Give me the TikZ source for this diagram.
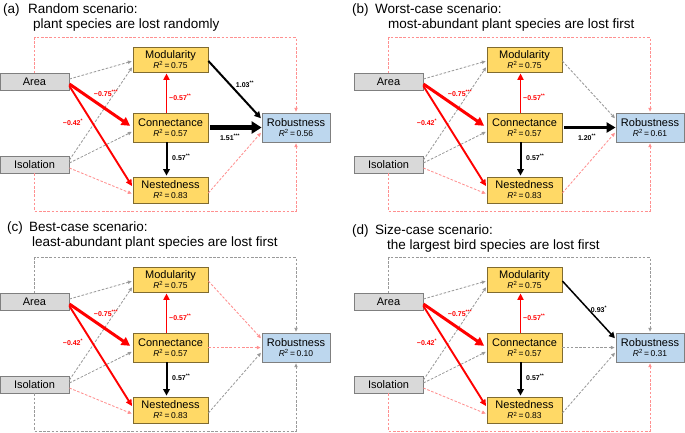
\documentclass[tikz,border=0pt]{standalone}
\usepackage{fontspec}
\setmainfont{Liberation Sans}
\usetikzlibrary{arrows.meta}
\definecolor{yfill}{HTML}{FFD966}
\definecolor{yborder}{HTML}{806B30}
\definecolor{bfill}{HTML}{BDD7EE}
\definecolor{gfill}{HTML}{D9D9D9}
\definecolor{bord}{HTML}{7F7F7F}
\definecolor{dgrey}{HTML}{9A9A9A}
\definecolor{dpink}{HTML}{FF9090}
\newcommand\rsq[1]{{\fontsize{8.5}{9}\selectfont\textit{R}\textsuperscript{2}\,=\,#1}}
\newcommand\panelbase[2]{%
  \node[greybox] (#1area) at (34.5,82) {Area};
  \node[greybox] (#1iso) at (34.5,164.5) {Isolation};
  \node[ybox, minimum height=25pt] (#1mod) at (170.5,59.5) {Modularity\\[-2pt]\rsq{0.75}};
  \node[ybox, minimum height=29pt] (#1con) at (170.5,127.5) {Connectance\\[-2pt]\rsq{0.57}};
  \node[ybox, minimum height=26pt] (#1nes) at (170.5,190) {Nestedness\\[-2pt]\rsq{0.83}};
  \node[bbox, minimum height=29pt] (#1rob) at (296,127.5) {Robustness\\[-2pt]\rsq{#2}};
  \coordinate (#1top) at (0,37.5);
  \coordinate (#1bot) at (0,211);
  \draw[gd] ([yshift=3pt]#1area.east) -- ([yshift=-1.5pt]#1mod.west);
  \draw[gd] ([yshift=4.5pt]#1iso.east) -- ([yshift=-7pt]#1mod.west);
  \draw[gd] ([yshift=1.5pt]#1iso.east) -- ([yshift=-4pt]#1con.west);
  \draw[pd] ([yshift=-3.5pt]#1iso.east) -- ([yshift=-4pt]#1nes.west);
  \draw[redB] ([yshift=-4pt]#1area.east) -- ([yshift=3pt]#1nes.west);
  \draw[redA] ([yshift=-2pt]#1area.east) -- (#1con.west);
  \draw[redB] ([xshift=-4pt]#1con.north) -- ([xshift=-4pt]#1mod.south);
  \draw[blk] ([xshift=-4pt]#1con.south) -- ([xshift=-4pt]#1nes.north);
  \node[rlab] (#1l1) at (106,93.5) {−0.75\textsuperscript{***}};
  \node[rlab] (#1l2) at (73,122) {−0.42\textsuperscript{*}};
  \node[rlab, anchor=west] (#1l3) at (169,97) {−0.57\textsuperscript{**}};
  \node[blab, anchor=west] (#1l4) at (172,157) {0.57\textsuperscript{**}};
}
\begin{document}
\begin{tikzpicture}[x=1pt,y=-1pt,
  greybox/.style={draw=bord, fill=gfill, line width=0.8pt, minimum width=69pt, minimum height=17pt, inner sep=0pt, font=\fontsize{11}{12}\selectfont},
  ybox/.style={draw=yborder, fill=yfill, line width=0.8pt, minimum width=75pt, inner sep=0pt, align=center, font=\fontsize{11}{12}\selectfont},
  bbox/.style={draw=bord, fill=bfill, line width=0.8pt, minimum width=68pt, inner sep=0pt, align=center, font=\fontsize{11}{12}\selectfont},
  gd/.style={draw=dgrey, line width=0.85pt, dash pattern=on 2.6pt off 1.6pt, -{Triangle[length=3.8pt,width=3.4pt]}, shorten >=1pt},
  pd/.style={draw=dpink, line width=0.85pt, dash pattern=on 2.6pt off 1.6pt, -{Triangle[length=3.8pt,width=3.4pt]}, shorten >=1pt},
  redA/.style={draw=red, line width=3pt, -{Triangle[length=8.5pt,width=9pt]}, shorten >=3pt},
  redB/.style={draw=red, line width=1.9pt, -{Triangle[length=6.5pt,width=6pt]}, shorten >=1pt},
  blk/.style={draw=black, line width=2pt, -{Triangle[length=6.5pt,width=6.5pt]}, shorten >=1pt},
  blkS/.style={draw=black, line width=1.5pt, -{Triangle[length=6pt,width=6pt]}, shorten >=1pt},
  blkL/.style={draw=black, line width=3.6pt, -{Triangle[length=9pt,width=10pt]}, shorten <=2pt},
  blkXL/.style={draw=black, line width=5pt, -{Triangle[length=10pt,width=12pt]}, shorten <=2pt},
  rlab/.style={text=red, inner sep=0pt, font=\bfseries\fontsize{7}{7}\selectfont},
  blab/.style={text=black, inner sep=0pt, font=\bfseries\fontsize{7}{7}\selectfont},
  ttl/.style={anchor=base west, inner sep=0pt, font=\fontsize{13.5}{14}\selectfont}
]
\useasboundingbox (0,0) rectangle (685,432);
% (a)
\node[ttl] (ta0) at (3,13.3) {(a)};
\node[ttl] (ta1) at (28,13.3) {Random scenario:};
\node[ttl] (ta2) at (33,28.3) {plant species are lost randomly};
\begin{scope}
  \panelbase{a}{0.56}
  \draw[pd] (aarea.north) -- (aarea.north |- atop) -| (arob.north);
  \draw[pd] (aiso.south) -- (aiso.south |- abot) -| (arob.south);
  \draw[blk] ([yshift=-1.5pt]amod.east) -- ([yshift=8.5pt]arob.west);
  \draw[blkXL] (acon.east) -- (arob.west);
  \draw[pd] ([yshift=-3pt]anes.east) -- ([yshift=-4.5pt]arob.west);
  \node[blab] (al5) at (245,84) {1.03\textsuperscript{**}};
  \node[blab] (al6) at (230,137) {1.51\textsuperscript{***}};
\end{scope}
% (b)
\node[ttl] (tb0) at (352,13.3) {(b)};
\node[ttl] (tb1) at (375,13.3) {Worst-case scenario:};
\node[ttl] (tb2) at (388,28.3) {most-abundant plant species are lost first};
\begin{scope}[shift={(354,0)}]
  \panelbase{b}{0.61}
  \draw[pd] (barea.north) -- (barea.north |- btop) -| (brob.north);
  \draw[pd] (biso.south) -- (biso.south |- bbot) -| (brob.south);
  \draw[gd] ([yshift=-1.5pt]bmod.east) -- ([yshift=8.5pt]brob.west);
  \draw[blkL] (bcon.east) -- (brob.west);
  \draw[pd] ([yshift=-3pt]bnes.east) -- ([yshift=-4.5pt]brob.west);
  \node[blab] (bl6) at (233,137) {1.20\textsuperscript{**}};
\end{scope}
% (c)
\node[ttl] (tc0) at (7,231) {(c)};
\node[ttl] (tc1) at (29,231) {Best-case scenario:};
\node[ttl] (tc2) at (32,246.5) {least-abundant plant species are lost first};
\begin{scope}[shift={(0,220)}]
  \panelbase{c}{0.10}
  \draw[gd] (carea.north) -- (carea.north |- ctop) -| (crob.north);
  \draw[gd] (ciso.south) -- (ciso.south |- cbot) -| (crob.south);
  \draw[pd] ([yshift=-1.5pt]cmod.east) -- ([yshift=8.5pt]crob.west);
  \draw[pd, line width=1.2pt] (ccon.east) -- (crob.west);
  \draw[gd] ([yshift=-3pt]cnes.east) -- ([yshift=-4.5pt]crob.west);
\end{scope}
% (d)
\node[ttl] (td0) at (352,234) {(d)};
\node[ttl] (td1) at (375,234) {Size-case scenario:};
\node[ttl] (td2) at (387,249) {the largest bird species are lost first};
\begin{scope}[shift={(354,220)}]
  \panelbase{d}{0.31}
  \draw[gd] (darea.north) -- (darea.north |- dtop) -| (drob.north);
  \draw[pd] (diso.south) -- (diso.south |- dbot) -| (drob.south);
  \draw[blkS] ([yshift=-1.5pt]dmod.east) -- ([yshift=8.5pt]drob.west);
  \draw[gd, line width=1.2pt] (dcon.east) -- (drob.west);
  \draw[gd] ([yshift=-3pt]dnes.east) -- ([yshift=-4.5pt]drob.west);
  \node[blab] (dl5) at (245,89) {0.93\textsuperscript{*}};
\end{scope}
\end{tikzpicture}
\end{document}
